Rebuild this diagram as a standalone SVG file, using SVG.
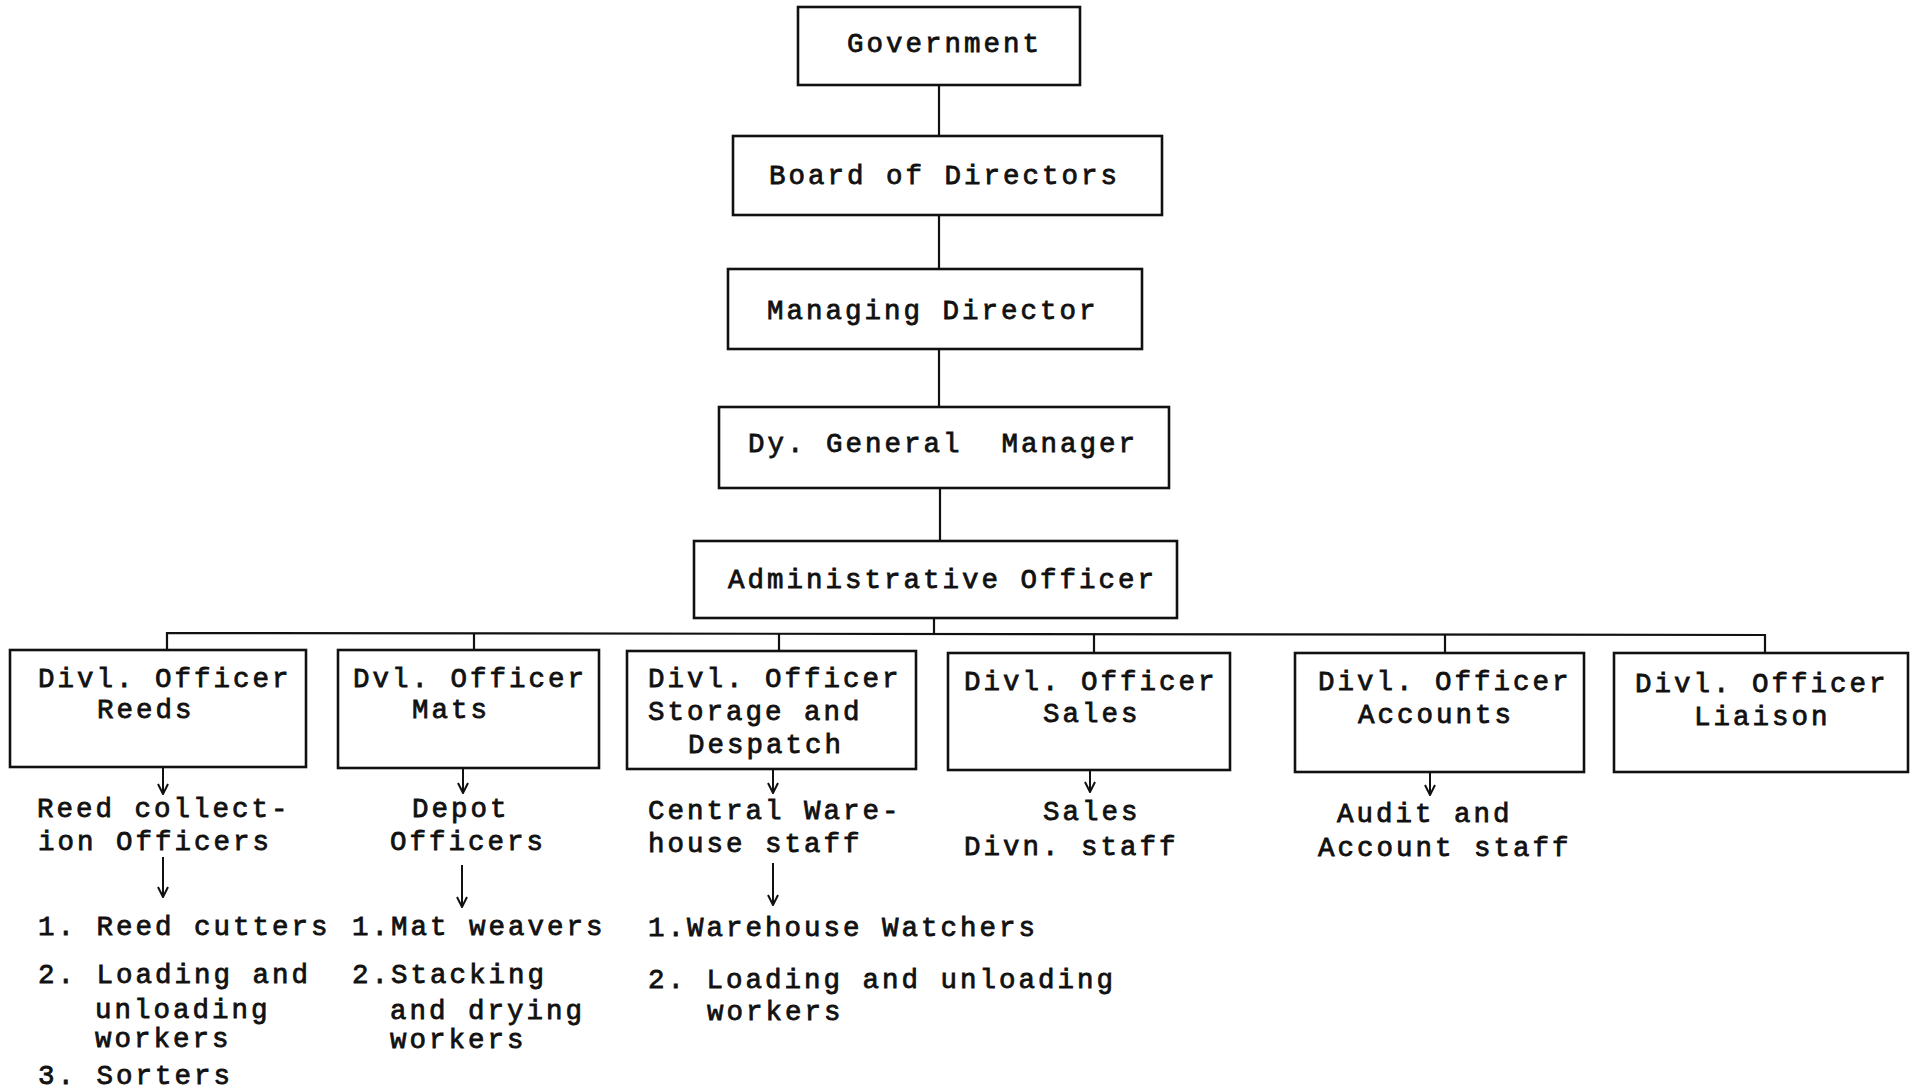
<svg xmlns="http://www.w3.org/2000/svg" width="1915" height="1091" viewBox="0 0 1915 1091">
<style>
  .box { fill: #fff; stroke: #111; stroke-width: 2.6; }
  .ln { fill: none; stroke: #111; stroke-width: 2.2; }
  .arr { fill: none; stroke: #111; stroke-width: 2; marker-end: url(#ah); }
  text { font-family: "Liberation Mono", "DejaVu Sans Mono", monospace; font-size: 27.5px; letter-spacing: 3px; fill: #111; stroke: #111; stroke-width: 0.8; white-space: pre; }
</style>
<defs>
  <marker id="ah" viewBox="0 0 12 12" refX="11" refY="6" markerWidth="12" markerHeight="12" markerUnits="userSpaceOnUse" orient="auto">
    <path d="M1,1 L11,6 L1,11" fill="none" stroke="#111" stroke-width="2"/>
  </marker>
</defs>
<rect width="1915" height="1091" fill="#fff"/>

<g id="connectors">
  <line class="ln" x1="939" y1="85" x2="939" y2="136"/>
  <line class="ln" x1="939" y1="215" x2="939" y2="269"/>
  <line class="ln" x1="939" y1="349" x2="939" y2="407"/>
  <line class="ln" x1="940" y1="488" x2="940" y2="541"/>
  <line class="ln" x1="934" y1="618" x2="934" y2="634"/>
  <polyline class="ln" points="167,650 167,633 1765,635 1765,653"/>
  <line class="ln" x1="474" y1="633" x2="474" y2="650"/>
  <line class="ln" x1="779" y1="633" x2="779" y2="651"/>
  <line class="ln" x1="1094" y1="634" x2="1094" y2="653"/>
  <line class="ln" x1="1445" y1="634" x2="1445" y2="653"/>
  <line class="arr" x1="163" y1="768" x2="163" y2="794"/>
  <line class="arr" x1="163" y1="857" x2="163" y2="897"/>
  <line class="arr" x1="463" y1="768" x2="463" y2="793"/>
  <line class="arr" x1="462" y1="865" x2="462" y2="907"/>
  <line class="arr" x1="773" y1="769" x2="773" y2="793"/>
  <line class="arr" x1="773" y1="863" x2="773" y2="905"/>
  <line class="arr" x1="1090" y1="770" x2="1090" y2="792"/>
  <line class="arr" x1="1430" y1="772" x2="1430" y2="795"/>
</g>

<g id="government">
  <rect class="box" x="798" y="7" width="282" height="78"/>
  <text x="847" y="52">Government</text>
</g>
<g id="board">
  <rect class="box" x="733" y="136" width="429" height="79"/>
  <text x="769" y="184">Board of Directors</text>
</g>
<g id="md">
  <rect class="box" x="728" y="269" width="414" height="80"/>
  <text x="767" y="319">Managing Director</text>
</g>
<g id="dgm">
  <rect class="box" x="719" y="407" width="450" height="81"/>
  <text x="748" y="452">Dy. General  Manager</text>
</g>
<g id="ao">
  <rect class="box" x="694" y="541" width="483" height="77"/>
  <text x="728" y="588">Administrative Officer</text>
</g>

<g id="reeds">
  <rect class="box" x="10" y="650" width="296" height="117"/>
  <text x="38" y="687">Divl. Officer</text>
  <text x="97" y="718">Reeds</text>
</g>
<g id="mats">
  <rect class="box" x="338" y="650" width="261" height="118"/>
  <text x="353" y="687">Dvl. Officer</text>
  <text x="412" y="718">Mats</text>
</g>
<g id="storage">
  <rect class="box" x="627" y="651" width="289" height="118"/>
  <text x="648" y="687">Divl. Officer</text>
  <text x="648" y="720">Storage and</text>
  <text x="688" y="753">Despatch</text>
</g>
<g id="sales">
  <rect class="box" x="948" y="653" width="282" height="117"/>
  <text x="964" y="690">Divl. Officer</text>
  <text x="1043" y="722">Sales</text>
</g>
<g id="accounts">
  <rect class="box" x="1295" y="653" width="289" height="119"/>
  <text x="1318" y="690">Divl. Officer</text>
  <text x="1358" y="723">Accounts</text>
</g>
<g id="liaison">
  <rect class="box" x="1614" y="653" width="294" height="119"/>
  <text x="1635" y="692">Divl. Officer</text>
  <text x="1694" y="725">Liaison</text>
</g>

<g id="reed-staff">
  <text x="37" y="817">Reed collect-</text>
  <text x="38" y="850">ion Officers</text>
</g>
<g id="reed-workers">
  <text x="38" y="935">1. Reed cutters</text>
  <text x="38" y="983">2. Loading and</text>
  <text x="95" y="1018">unloading</text>
  <text x="95" y="1047">workers</text>
  <text x="38" y="1084">3. Sorters</text>
</g>
<g id="depot-staff">
  <text x="412" y="817">Depot</text>
  <text x="390" y="850">Officers</text>
</g>
<g id="mat-workers">
  <text x="352" y="935">1.Mat weavers</text>
  <text x="352" y="983">2.Stacking</text>
  <text x="390" y="1019">and drying</text>
  <text x="390" y="1048">workers</text>
</g>
<g id="warehouse-staff">
  <text x="648" y="819">Central Ware-</text>
  <text x="648" y="852">house staff</text>
</g>
<g id="warehouse-workers">
  <text x="648" y="936">1.Warehouse Watchers</text>
  <text x="648" y="988">2. Loading and unloading</text>
  <text x="707" y="1020">workers</text>
</g>
<g id="sales-staff">
  <text x="1043" y="820">Sales</text>
  <text x="964" y="855">Divn. staff</text>
</g>
<g id="audit-staff">
  <text x="1337" y="822">Audit and</text>
  <text x="1318" y="856">Account staff</text>
</g>
</svg>
